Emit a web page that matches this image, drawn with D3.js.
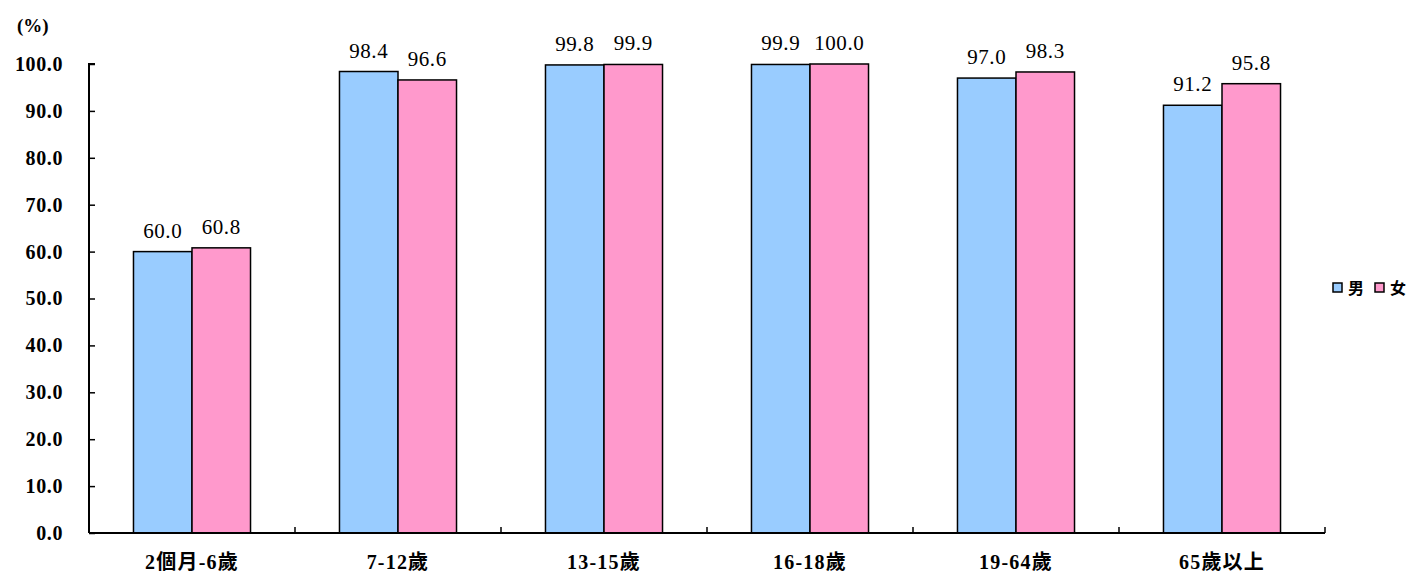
<!DOCTYPE html>
<html><head><meta charset="utf-8">
<script src="https://cdn.jsdelivr.net/npm/d3@7"></script>
<style>body{margin:0;background:#fff}svg{display:block}</style>
</head><body>
<script>
const categories = ["2個月-6歲","7-12歲","13-15歲","16-18歲","19-64歲","65歲以上"];
const seriesNames = ["男","女"];
const maleValues = [60.0, 98.4, 99.8, 99.9, 97.0, 91.2];
const femaleValues = [60.8, 96.6, 99.9, 100.0, 98.3, 95.8];
const yTicks = [0,10,20,30,40,50,60,70,80,90,100];
const colors = ["#99CCFF","#FF99CC"];

const W=1414,H=576;
const svg=d3.select("body").append("svg").attr("width",W).attr("height",H);
const pL=89,pR=1325,pT=64,pB=533;
const x=d3.scaleBand().domain(categories).range([pL,pR]).paddingInner(0).paddingOuter(0);
const y=d3.scaleLinear().domain([0,100]).range([pB,pT]);
const inner=d3.scaleBand().domain(seriesNames).range([0,x.bandwidth()]).paddingInner(0).paddingOuter(0.76);
const serif="'Liberation Serif','Times New Roman','Noto Sans CJK TC',serif";

const series=[maleValues,femaleValues];
seriesNames.forEach((s,si)=>{
  svg.append("g").selectAll("rect").data(categories).join("rect")
    .attr("x",c=>x(c)+inner(s)).attr("width",inner.bandwidth())
    .attr("y",(c,i)=>y(series[si][i])).attr("height",(c,i)=>pB-y(series[si][i]))
    .attr("fill",colors[si]).attr("stroke","#000").attr("stroke-width",1.5);
  svg.append("g").selectAll("text").data(categories).join("text")
    .attr("x",c=>x(c)+inner(s)+inner.bandwidth()/2)
    .attr("y",(c,i)=>y(series[si][i])-14)
    .attr("text-anchor","middle").attr("font-family",serif).attr("font-size",21).attr("letter-spacing",0.6)
    .text((c,i)=>series[si][i].toFixed(1));
});

// y axis
const ya=svg.append("g").attr("transform",`translate(${pL},0)`)
  .call(d3.axisRight(y).tickValues(yTicks).tickSize(6).tickFormat(d=>d.toFixed(1)));
ya.select(".domain").attr("stroke","#000").attr("stroke-width",2).attr("d",`M6,${pT}H0V${pB}`);
ya.selectAll(".tick line").attr("stroke","#000").attr("stroke-width",1.5);
ya.selectAll(".tick text").attr("x",-26).attr("text-anchor","end")
  .attr("font-family",serif).attr("font-size",20).attr("font-weight","bold").attr("letter-spacing",0.6).attr("fill","#000");

// x axis
const xa=svg.append("g").attr("transform",`translate(0,${pB})`);
xa.append("line").attr("x1",pL).attr("x2",pR).attr("stroke","#000").attr("stroke-width",2);
const bounds=categories.map(c=>x(c)+x.bandwidth());
xa.selectAll("line.t").data(bounds).join("line").attr("class","t")
  .attr("x1",d=>d).attr("x2",d=>d).attr("y1",0).attr("y2",-6).attr("stroke","#000").attr("stroke-width",1.5);
xa.selectAll("text").data(categories).join("text")
  .attr("x",c=>x(c)+x.bandwidth()/2).attr("y",36)
  .attr("text-anchor","middle").attr("font-family",serif).attr("font-size",20).attr("font-weight","bold").attr("letter-spacing",1.2)
  .text(c=>c);

svg.append("text").attr("x",17).attr("y",32).attr("font-family",serif).attr("font-size",19).attr("font-weight","bold").text("(%)");

// legend
const lg=svg.append("g").attr("transform","translate(1333,288)");
seriesNames.forEach((s,i)=>{
  const g=lg.append("g").attr("transform",`translate(${i*42},0)`);
  g.append("rect").attr("x",0).attr("y",-5).attr("width",9).attr("height",9).attr("fill",colors[i]).attr("stroke","#000").attr("stroke-width",1.5);
  g.append("text").attr("x",15).attr("y",6).attr("font-family",serif).attr("font-size",16).attr("font-weight","bold").text(s);
});
</script>
</body></html>
